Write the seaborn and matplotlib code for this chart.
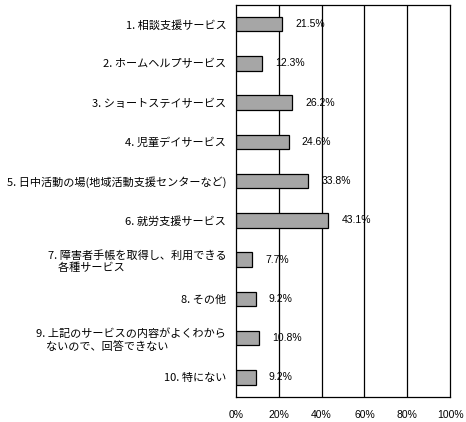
import matplotlib
matplotlib.use('Agg')
import matplotlib.pyplot as plt
import seaborn as sns
import pandas as pd
from matplotlib.ticker import FixedLocator, FuncFormatter

categories = [
    '1. 相談支援サービス',
    '2. ホームヘルプサービス',
    '3. ショートステイサービス',
    '4. 児童デイサービス',
    '5. 日中活動の場(地域活動支援センターなど)',
    '6. 就労支援サービス',
    '7. 障害者手帳を取得し、利用できる\n    各種サービス',
    '8. その他',
    '9. 上記のサービスの内容がよくわから\n    ないので、回答できない',
    '10. 特にない',
]
values = [21.5, 12.3, 26.2, 24.6, 33.8, 43.1, 7.7, 9.2, 10.8, 9.2]
x_ticks = [0, 20, 40, 60, 80, 100]

df = pd.DataFrame({'item': categories, 'pct': values})

sns.set_style('white')
plt.rcParams['font.family'] = ['Noto Sans CJK JP', 'DejaVu Sans']
plt.rcParams['text.color'] = 'black'
plt.rcParams['xtick.color'] = 'black'
plt.rcParams['ytick.color'] = 'black'

fig = plt.figure(figsize=(4.66, 4.22), dpi=100)
ax = fig.add_axes([0.5064, 0.0592, 0.4593, 0.9301])

sns.barplot(data=df, x='pct', y='item', orient='h', color='#A6A6A6',
            edgecolor='black', linewidth=0.9, width=0.37, saturation=1, ax=ax)

ax.set_xlim(0, 100)
ax.set_ylim(len(categories) - 0.5, -0.5)
ax.xaxis.set_major_locator(FixedLocator(x_ticks))
ax.xaxis.set_major_formatter(FuncFormatter(lambda v, p: f'{v:.0f}%'))
for t in x_ticks[1:-1]:
    ax.axvline(t, color='black', linewidth=0.9, zorder=0)

for s in ax.spines.values():
    s.set_visible(True)
    s.set_color('black')
    s.set_linewidth(0.9)

ax.set_xlabel('')
ax.set_ylabel('')
ax.tick_params(axis='x', length=0, pad=9, labelsize=7.5, labelcolor='black')
ax.tick_params(axis='y', length=0, pad=7, labelsize=8, labelcolor='black')
for lbl in ax.get_xticklabels():
    lbl.set_family(['Liberation Sans'])
for lbl in ax.get_yticklabels():
    lbl.set_multialignment('left')

for i, v in enumerate(values):
    ax.annotate(f'{v:.1f}%', xy=(v, i), xytext=(9.5, 0), textcoords='offset points',
                ha='left', va='center', fontsize=7.5, color='black',
                family=['Liberation Sans'])

fig.savefig('out.png', dpi=100)
